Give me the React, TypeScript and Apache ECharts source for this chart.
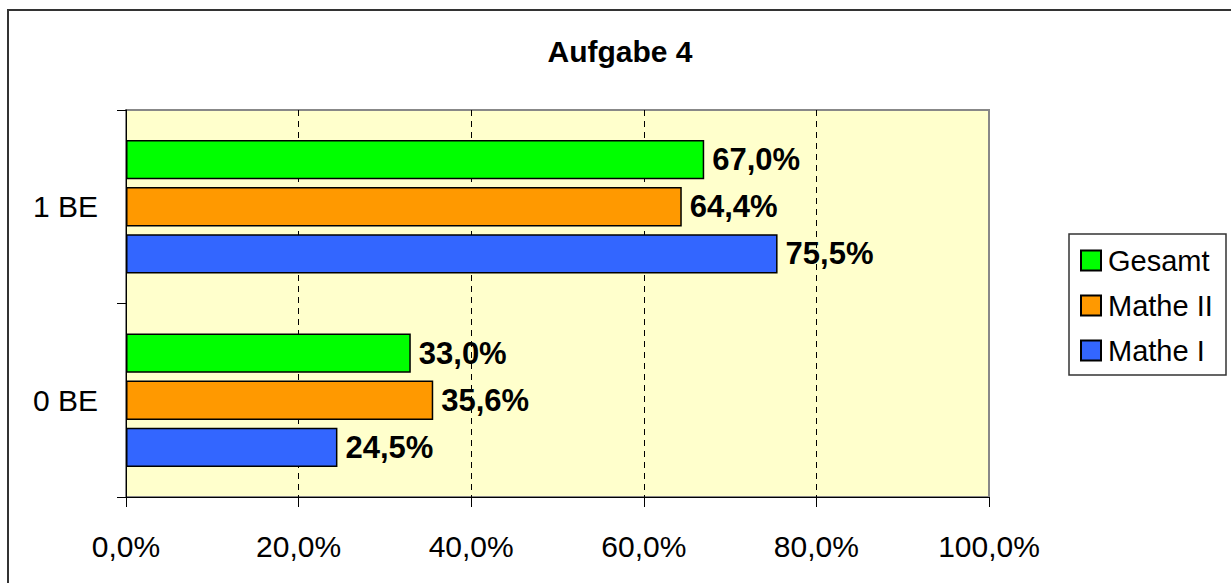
import React, { useEffect, useRef } from "react";
import * as echarts from "echarts";

const categories = ["0 BE", "1 BE"];
const seriesNames = ["Gesamt", "Mathe II", "Mathe I"];
const gesamt = [33.0, 67.0];
const matheII = [35.6, 64.4];
const matheI = [24.5, 75.5];
const seriesColors = ["#00FF00", "#FF9900", "#3366FF"];
const legendOrder = ["Gesamt", "Mathe II", "Mathe I"];
const xTicks = [0, 20, 40, 60, 80, 100];

const FONT = "'Liberation Sans', Arial, sans-serif";
const fmt = (v: number) => v.toFixed(1).replace(".", ",") + "%";

export default function App() {
  const ref = useRef<HTMLDivElement>(null);
  useEffect(() => {
    document.body.style.margin = "0";
    const chart = echarts.init(ref.current!, undefined, { renderer: "svg" });
    const values = [gesamt, matheII, matheI];
    chart.setOption({
      animation: false,
      backgroundColor: "#ffffff",
      textStyle: { fontFamily: FONT },
      title: {
        text: "Aufgabe 4",
        left: 620,
        top: 36,
        textAlign: "center",
        padding: 0,
        textStyle: { fontFamily: FONT, fontSize: 30, fontWeight: "bold", color: "#000" },
      },
      legend: {
        orient: "vertical",
        left: 1080,
        top: 246,
        padding: 0,
        itemGap: 16,
        itemWidth: 20,
        itemHeight: 20,
        icon: "rect",
        data: legendOrder,
        textStyle: { fontFamily: FONT, fontSize: 29, color: "#000", padding: [0, 0, 0, 2] },
      },
      graphic: [
        {
          type: "rect",
          shape: { x: 8, y: 10, width: 1300, height: 700 },
          style: { fill: "none", stroke: "#333", lineWidth: 2 },
          silent: true,
        },
        {
          type: "rect",
          shape: { x: 1069, y: 234, width: 157, height: 141 },
          style: { fill: "none", stroke: "#333", lineWidth: 1.5 },
          silent: true,
        },
      ],
      grid: {
        left: 126,
        top: 110,
        right: 242,
        bottom: 86,
        show: true,
        backgroundColor: "#FFFFCC",
        borderColor: "#888",
        borderWidth: 2,
      },
      xAxis: {
        type: "value",
        min: 0,
        max: 100,
        interval: 20,
        axisLine: { show: true, lineStyle: { color: "#000", width: 1 } },
        axisTick: { show: true, length: 10, inside: false, lineStyle: { color: "#000" } },
        splitLine: {
          show: true,
          lineStyle: {
            color: ["transparent", "#000", "#000", "#000", "#000", "transparent"],
            width: 1,
            type: [6, 5],
          },
        },
        axisLabel: {
          margin: 34,
          fontFamily: FONT,
          fontSize: 30,
          color: "#000",
          formatter: (v: number) => (xTicks.includes(v) ? fmt(v) : ""),
        },
      },
      yAxis: {
        type: "category",
        data: categories,
        axisLine: { show: true, lineStyle: { color: "#000", width: 1 } },
        axisTick: { show: true, length: 9, lineStyle: { color: "#000" } },
        splitLine: { show: false },
        axisLabel: { margin: 28, fontFamily: FONT, fontSize: 30, color: "#000" },
      },
      series: seriesNames.map((name, i) => ({
        name,
        type: "bar",
        data: values[i],
        barGap: "20%",
        barCategoryGap: "31%",
        itemStyle: { color: seriesColors[i], borderColor: "#000", borderWidth: 1.5 },
        label: {
          show: true,
          position: "right",
          distance: 8,
          fontFamily: FONT,
          fontSize: 31,
          fontWeight: "bold",
          color: "#000",
          formatter: (p: any) => fmt(p.value),
        },
      })),
    });
    return () => chart.dispose();
  }, []);
  return (
    <div
      ref={ref}
      style={{ position: "fixed", left: 0, top: 0, width: 1231, height: 583 }}
    />
  );
}
